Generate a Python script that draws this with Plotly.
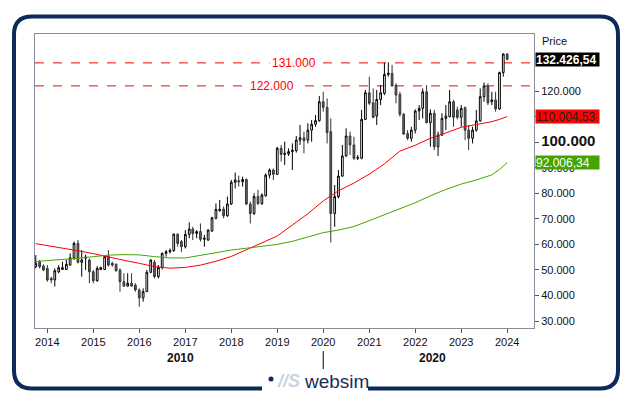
import pandas as pd
import plotly.graph_objects as go

# ---------------- data (values in thousands) ----------------
first_month = "2013-10-01"
open_ = [51.3, 53.2, 51.6, 50.6, 46.7, 46.1, 49.3, 50.2, 50.2, 51.9, 54.8, 60.4, 53.0, 54.6, 53.9,
         49.3, 45.8, 50.2, 50.2, 55.4, 52.6, 52.2, 50.0, 45.4, 43.7, 44.8, 44.1, 42.2, 39.1, 41.5,
         49.1, 53.0, 47.4, 51.0, 56.5, 57.1, 57.6, 64.0, 61.1, 59.1, 63.9, 66.0, 64.3, 65.0, 62.0,
         61.7, 65.2, 70.2, 73.2, 73.8, 71.2, 75.8, 84.3, 84.9, 84.5, 85.4, 75.8, 72.1, 78.7, 76.0,
         79.0, 87.1, 89.1, 87.4, 97.6, 95.2, 95.4, 96.3, 96.7, 100.8, 101.7, 100.8, 104.7, 107.0,
         108.4, 115.8, 113.6, 104.1, 72.1, 78.7, 86.7, 94.6, 102.4, 98.9, 93.7, 93.7, 108.9, 119.3,
         115.4, 110.2, 116.7, 119.1, 126.5, 126.9, 122.3, 118.7, 110.9, 103.4, 101.5, 104.7, 112.2,
         113.2, 119.7, 107.6, 111.3, 98.2, 102.8, 109.3, 110.0, 115.8, 112.6, 109.7, 113.5, 104.7,
         101.5, 104.7, 108.3, 117.8, 121.95, 115.8, 116.5, 113.0, 127.2, 134.5]
high = [55.8, 53.9, 52.2, 51.9, 47.4, 50.6, 51.9, 53.2, 53.9, 56.5, 61.1, 61.7, 57.8, 56.0, 54.5,
        50.0, 51.5, 51.3, 55.8, 57.8, 53.2, 52.6, 50.6, 48.7, 48.7, 48.7, 44.8, 42.8, 42.8, 50.0,
        54.1, 53.9, 51.9, 56.8, 57.8, 58.4, 64.3, 64.3, 61.7, 65.6, 68.6, 66.9, 65.6, 68.2, 63.7,
        65.9, 70.8, 76.0, 77.4, 74.8, 78.7, 85.2, 88.1, 86.9, 86.5, 85.8, 76.7, 80.0, 81.3, 80.0,
        87.8, 89.7, 89.7, 98.2, 98.9, 100.2, 97.6, 99.5, 102.4, 106.7, 104.1, 107.4, 108.7, 110.6,
        118.0, 119.7, 117.1, 109.3, 83.2, 89.1, 98.9, 105.4, 104.1, 102.1, 95.0, 112.6, 120.4, 125.6,
        121.0, 120.4, 122.3, 131.1, 131.2, 130.2, 123.0, 119.7, 111.3, 104.7, 106.0, 112.8, 114.5,
        121.0, 122.3, 112.8, 112.6, 104.1, 111.3, 114.5, 120.4, 116.5, 113.9, 114.5, 113.9, 106.7,
        106.0, 112.6, 121.0, 123.3, 123.0, 119.7, 119.7, 127.6, 134.7, 134.7]
low = [50.6, 50.6, 49.5, 45.4, 44.8, 43.5, 48.7, 50.0, 50.0, 51.9, 53.9, 52.6, 47.4, 50.0, 44.8,
       44.8, 45.4, 50.0, 50.0, 51.3, 51.3, 49.3, 41.5, 43.4, 43.4, 43.4, 41.5, 35.6, 37.6, 41.5,
       48.7, 46.7, 46.7, 50.2, 55.2, 56.5, 57.1, 59.1, 57.1, 58.4, 62.4, 61.7, 62.4, 61.1, 59.1,
       61.4, 65.0, 69.8, 72.8, 70.2, 70.8, 75.4, 81.9, 82.6, 82.6, 75.4, 68.2, 71.5, 75.4, 75.4,
       78.7, 85.8, 85.2, 87.1, 92.4, 91.1, 94.6, 89.1, 95.9, 98.9, 95.6, 99.5, 100.2, 106.0,
       108.0, 111.9, 99.5, 60.8, 66.9, 78.0, 86.5, 94.3, 95.0, 93.0, 93.0, 93.3, 108.7, 114.5,
       109.3, 106.7, 114.5, 118.4, 125.6, 121.7, 115.2, 110.0, 102.8, 100.8, 100.2, 103.4, 108.7,
       109.3, 107.4, 98.2, 96.9, 94.6, 102.4, 104.7, 109.7, 106.0, 108.9, 106.0, 100.8, 96.9,
       99.5, 104.1, 108.0, 115.8, 114.5, 114.5, 111.9, 112.6, 125.6, 132.0]
close = [52.6, 51.3, 50.0, 46.1, 46.1, 49.7, 50.9, 50.9, 52.2, 54.8, 60.4, 53.0, 53.9, 55.0, 49.3,
         45.8, 50.6, 50.9, 55.2, 51.9, 51.9, 49.7, 45.4, 43.7, 44.8, 43.7, 42.2, 39.1, 41.5, 49.1,
         53.9, 47.4, 51.0, 56.5, 57.1, 57.6, 64.0, 60.4, 59.1, 63.9, 66.0, 64.3, 65.0, 62.0, 62.4,
         65.6, 70.4, 73.7, 73.7, 71.2, 75.8, 84.3, 85.2, 84.5, 85.4, 75.8, 72.1, 78.7, 76.0, 79.3,
         87.1, 89.1, 87.4, 97.6, 95.2, 95.6, 96.3, 96.9, 100.8, 101.7, 100.6, 104.7, 107.0, 108.4,
         115.8, 113.6, 103.7, 72.1, 78.7, 86.7, 94.6, 102.4, 98.9, 93.7, 94.0, 108.9, 119.3, 115.2,
         109.7, 116.7, 119.3, 126.5, 126.9, 122.0, 118.4, 110.9, 103.2, 101.5, 104.7, 112.2, 113.2,
         119.7, 107.6, 111.3, 98.2, 102.8, 109.3, 110.2, 115.8, 109.7, 109.7, 113.2, 104.7, 101.5,
         104.7, 108.3, 117.8, 121.95, 115.4, 116.5, 113.0, 127.2, 134.5, 132.43]

ma_dates = ["2013-10-01", "2014-01-01", "2014-05-01", "2014-09-01", "2015-01-01", "2015-05-01",
            "2015-09-01", "2016-01-01", "2016-05-01", "2016-09-01", "2017-01-01", "2017-05-01",
            "2017-09-01", "2018-01-01", "2018-05-01", "2018-09-01", "2019-01-01", "2019-05-01",
            "2019-09-01", "2020-01-01", "2020-05-01", "2020-09-01", "2021-01-01", "2021-05-01",
            "2021-09-01", "2022-01-01", "2022-05-01", "2022-09-01", "2023-01-01", "2023-05-01",
            "2023-09-01", "2023-11-01", "2024-01-01"]
ma_red = [60.3, 59.6, 58.5, 57.5, 56.4, 55.0, 53.8, 52.6, 51.3, 50.7, 51.0, 51.9, 53.4, 55.3,
          57.8, 60.6, 63.3, 67.5, 72.0, 77.0, 81.0, 84.0, 87.5, 91.5, 96.5, 98.8, 101.5, 103.6,
          105.8, 106.9, 108.0, 108.9, 110.0]
ma_green = [53.3, 53.6, 54.1, 54.6, 55.2, 55.8, 56.0, 55.9, 55.2, 54.7, 54.7, 55.7, 56.8, 57.8,
            58.5, 59.3, 60.0, 61.2, 62.8, 64.6, 65.6, 67.0, 69.3, 71.5, 73.8, 76.3, 79.0, 81.5,
            83.6, 85.2, 87.2, 89.3, 92.0]

levels = [131.0, 122.0]
level_labels = ["131.000", "122.000"]
ytick_vals = [30, 40, 50, 60, 70, 80, 90, 100, 110, 120]
ytick_text = ["30.000", "40.000", "50.000", "60.000", "70.000", "80.000", "90.000",
              "<b><span style='font-size:15px'>100.000</span></b>", "", "120.000"]
years = list(range(2014, 2025))
last_price_text = "132.426,54"
red_ma_text = "110.004,53"
green_ma_text = "92.006,34"

# ---------------- layout helpers ----------------
W, H = 629, 395
PL, PR, PT, PB = 35, 534, 34, 328


def px(x):
    return (x - PL) / (PR - PL)


def py(y):
    return (PB - y) / (PB - PT)


dates = pd.date_range(first_month, periods=len(close), freq="MS")
FONT = "Liberation Sans, Arial, sans-serif"

fig = go.Figure()
fig.add_trace(go.Candlestick(
    x=dates, open=open_, high=high, low=low, close=close,
    increasing=dict(fillcolor="#ffffff", line=dict(color="#000000", width=1)),
    decreasing=dict(fillcolor="#666666", line=dict(color="#333333", width=1)),
    whiskerwidth=0, showlegend=False, hoverinfo="skip"))
fig.add_trace(go.Scatter(x=pd.to_datetime(ma_dates), y=ma_red, mode="lines",
                         line=dict(color="#ff0000", width=1), showlegend=False, hoverinfo="skip"))
fig.add_trace(go.Scatter(x=pd.to_datetime(ma_dates), y=ma_green, mode="lines",
                         line=dict(color="#44a500", width=1), showlegend=False, hoverinfo="skip"))

shapes = []
for lv in levels:
    shapes.append(dict(type="line", xref="paper", yref="y", x0=0, x1=1, y0=lv, y1=lv,
                       line=dict(color="#ff0000", width=1, dash="dash"), layer="below"))

# decade separator tick
shapes.append(dict(type="line", xref="x", yref="paper", x0="2020-01-01", x1="2020-01-01",
                   y0=py(351), y1=py(369), line=dict(color="#000000", width=1)))

# rounded frame, open at the bottom for the logo
L_, R_, T_, B_, r = 14, 618, 16.5, 388.5, 18
pts = [("M", 262, B_), ("L", L_ + r, B_), ("Q", L_, B_, L_, B_ - r), ("L", L_, T_ + r),
       ("Q", L_, T_, L_ + r, T_), ("L", R_ - r, T_), ("Q", R_, T_, R_, T_ + r),
       ("L", R_, B_ - r), ("Q", R_, B_, R_ - r, B_), ("L", 368, B_)]
path = ""
for p in pts:
    cmd = p[0]
    coords = p[1:]
    seg = []
    for i in range(0, len(coords), 2):
        seg.append(f"{px(coords[i]):.5f},{py(coords[i + 1]):.5f}")
    path += cmd + " " + " ".join(seg) + " "
shapes.append(dict(type="path", xref="paper", yref="paper", path=path.strip(),
                   line=dict(color="#0d2a5a", width=4)))
# logo dot
shapes.append(dict(type="circle", xref="paper", yref="paper",
                   x0=px(268.5), x1=px(273.5), y0=py(381.5), y1=py(376.5),
                   fillcolor="#0d2a5a", line=dict(width=0)))

annotations = []
for lv, lab, xc in zip(levels, level_labels, [294, 272]):
    annotations.append(dict(xref="paper", yref="y", x=px(xc), y=lv, text=lab, showarrow=False,
                            font=dict(family=FONT, size=12, color="#ff0000"),
                            bgcolor="#ffffff", borderpad=2, xanchor="center", yanchor="middle"))

for txt, val, bg, fc, bold in [(last_price_text, close[-1], "#000000", "#ffffff", True),
                               (red_ma_text, ma_red[-1], "#ff0000", "#222222", False),
                               (green_ma_text, ma_green[-1], "#44a500", "#ffffff", False)]:
    annotations.append(dict(xref="paper", yref="y", x=px(535), y=val,
                            text=f"<b>{txt}</b>" if bold else txt, showarrow=False,
                            font=dict(family=FONT, size=12, color=fc), bgcolor=bg,
                            width=63, height=13, borderpad=0, align="left",
                            xanchor="left", yanchor="middle"))

annotations.append(dict(xref="paper", yref="paper", x=px(540), y=py(41), text="Price",
                        showarrow=False, font=dict(family=FONT, size=11, color="#111111"),
                        xanchor="left", yanchor="middle"))
annotations.append(dict(xref="paper", yref="paper", x=px(180), y=py(358), text="<b>2010</b>",
                        showarrow=False, font=dict(family=FONT, size=12, color="#111111"),
                        xanchor="center", yanchor="middle"))
annotations.append(dict(xref="paper", yref="paper", x=px(432), y=py(358), text="<b>2020</b>",
                        showarrow=False, font=dict(family=FONT, size=12, color="#111111"),
                        xanchor="center", yanchor="middle"))
# logo text
annotations.append(dict(xref="paper", yref="paper", x=px(275), y=py(381), text="<b><i>//S</i></b>",
                        showarrow=False, font=dict(family=FONT, size=18, color="#c9d3e2"),
                        xanchor="left", yanchor="middle"))
annotations.append(dict(xref="paper", yref="paper", x=px(302), y=py(381), text="websim",
                        showarrow=False, font=dict(family=FONT, size=19, color="#1a2c58"),
                        xanchor="left", yanchor="middle"))

fig.update_layout(
    width=W, height=H, margin=dict(l=PL, r=W - PR, t=PT, b=H - PB),
    paper_bgcolor="#ffffff", plot_bgcolor="#ffffff",
    font=dict(family=FONT, size=11, color="#111111"),
    shapes=shapes, annotations=annotations, showlegend=False,
    xaxis=dict(type="date", range=["2013-09-25", "2024-08-01"], rangeslider=dict(visible=False),
               tickvals=[f"{y}-01-01" for y in years], ticktext=[str(y) for y in years],
               ticks="outside", ticklen=4, tickcolor="#555555", showgrid=False, zeroline=False,
               showline=True, linecolor="#8c8c9c", linewidth=1, mirror=True,
               tickfont=dict(family=FONT, size=11, color="#111111")),
    yaxis=dict(side="right", range=[27.3, 142.3], tickvals=ytick_vals, ticktext=ytick_text,
               ticks="outside", ticklen=4, tickcolor="#555555", showgrid=False, zeroline=False,
               showline=True, linecolor="#8c8c9c", linewidth=1, mirror=True,
               tickfont=dict(family=FONT, size=11, color="#111111")),
)

fig.write_html("out.html", config={"displayModeBar": False},
               post_script="document.body.style.margin='0';document.body.style.padding='0';"
                           "document.body.style.overflow='hidden';")
